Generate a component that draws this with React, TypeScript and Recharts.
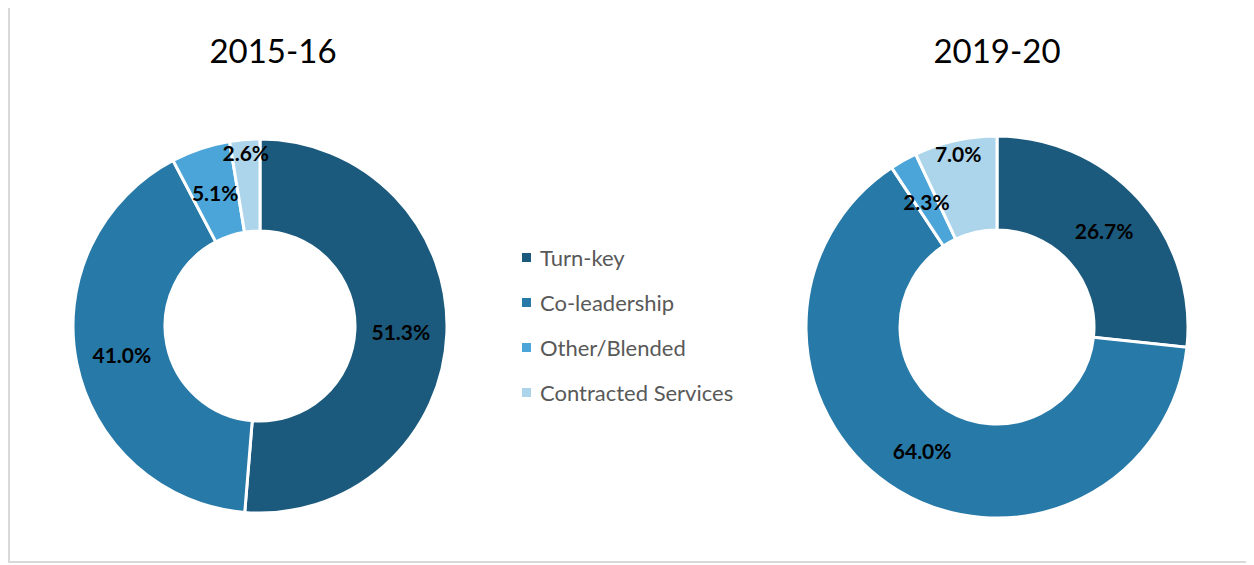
import React from 'react';
import { PieChart, Pie, Cell, Legend } from 'recharts';

const categories = ['Turn-key', 'Co-leadership', 'Other/Blended', 'Contracted Services'];
const values2015 = [51.3, 41.0, 5.1, 2.6];
const values2020 = [26.7, 64.0, 2.3, 7.0];
const titles = ['2015-16', '2019-20'];
const colors = ['#1c5a7d', '#2779a8', '#4ca5d9', '#acd5eb'];

const data2015 = categories.map((name, i) => ({ name, value: values2015[i] }));
const data2020 = categories.map((name, i) => ({ name, value: values2020[i] }));

const RAD = Math.PI / 180;
const FONT = 'Lato, "Open Sans", sans-serif';

const renderLabel = (props: any) => {
  const { cx, cy, midAngle, innerRadius, outerRadius, value, index } = props;
  // small last slice label is nudged outward (as in the original)
  const r = index === 3 ? outerRadius - 13 : (innerRadius + outerRadius) / 2;
  const x = cx + r * Math.cos(-midAngle * RAD);
  const y = cy + r * Math.sin(-midAngle * RAD);
  return (
    <text
      x={x}
      y={y}
      textAnchor="middle"
      dominantBaseline="central"
      fill="#000"
      fontFamily={FONT}
      fontWeight={700}
      fontSize={21}
    >
      {Number(value).toFixed(1)}%
    </text>
  );
};

const LegendContent = () => (
  <div style={{ fontFamily: FONT, fontSize: 22, color: '#595959' }}>
    {categories.map((c, i) => (
      <div key={c} style={{ display: 'flex', alignItems: 'center', height: 45 }}>
        <span
          style={{
            display: 'inline-block',
            width: 9,
            height: 9,
            background: colors[i],
            marginRight: 9,
          }}
        />
        <span>{c}</span>
      </div>
    ))}
  </div>
);

export default function App() {
  return (
    <div
      style={{
        marginTop: -4,
        width: 1246,
        height: 559,
        border: '2px solid #d9d9d9',
        borderRight: 'none',
        boxSizing: 'border-box',
        position: 'relative',
        background: '#fff',
      }}
    >
      <div
        style={{
          position: 'absolute',
          left: 263,
          top: 44,
          transform: 'translate(-50%, -50%)',
          fontFamily: FONT,
          fontSize: 33,
          lineHeight: 1,
          color: '#000',
          whiteSpace: 'nowrap',
        }}
      >
        {titles[0]}
      </div>
      <div
        style={{
          position: 'absolute',
          left: 987,
          top: 44,
          transform: 'translate(-50%, -50%)',
          fontFamily: FONT,
          fontSize: 33,
          lineHeight: 1,
          color: '#000',
          whiteSpace: 'nowrap',
        }}
      >
        {titles[1]}
      </div>
      <PieChart width={1244} height={555} margin={{ top: 0, right: 0, bottom: 0, left: 0 }}>
        <Pie
          data={data2015}
          dataKey="value"
          nameKey="name"
          cx={250}
          cy={320}
          innerRadius={95}
          outerRadius={187}
          startAngle={90}
          endAngle={-270}
          stroke="#fff"
          strokeWidth={3}
          label={renderLabel}
          labelLine={false}
          isAnimationActive={false}
        >
          {data2015.map((d, i) => (
            <Cell key={d.name} fill={colors[i]} />
          ))}
        </Pie>
        <Pie
          data={data2020}
          dataKey="value"
          nameKey="name"
          cx={987}
          cy={321}
          innerRadius={97}
          outerRadius={191}
          startAngle={90}
          endAngle={-270}
          stroke="#fff"
          strokeWidth={3}
          label={renderLabel}
          labelLine={false}
          isAnimationActive={false}
        >
          {data2020.map((d, i) => (
            <Cell key={d.name} fill={colors[i]} />
          ))}
        </Pie>
        <Legend
          content={<LegendContent />}
          wrapperStyle={{ position: 'absolute', left: 512, top: 229, width: 280 }}
        />
      </PieChart>
    </div>
  );
}
